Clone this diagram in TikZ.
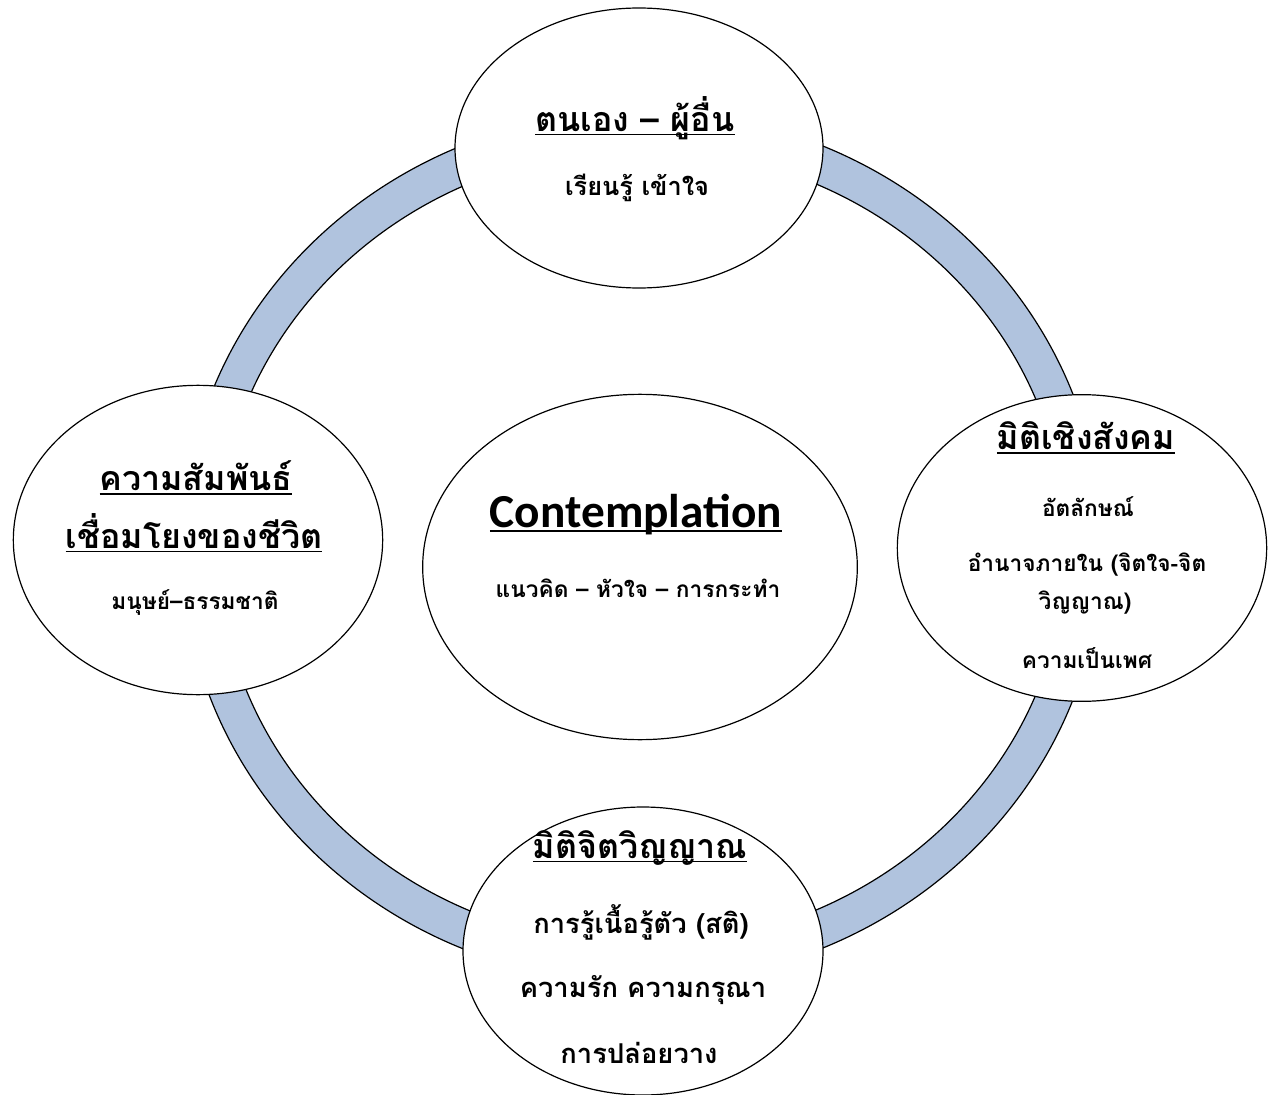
\documentclass[tikz,border=0pt]{standalone}
\usepackage{fontspec}
\setmainfont{Carlito}
\newfontfamily\thaifont[Script=Thai]{Loma}
\usetikzlibrary{shapes.geometric}
\definecolor{ringblue}{RGB}{176,195,222}
\newsavebox\ulbox
\newcommand{\ulin}[1]{\sbox\ulbox{#1}\rlap{\usebox\ulbox}\rule[-3pt]{\wd\ulbox}{1.2pt}}

\tikzset{
  blob/.style={draw, fill=white, ellipse, line width=0.9pt, inner sep=0pt},
  head/.style={font=\thaifont\bfseries\fontsize{25.5}{30}\selectfont},
  body/.style={font=\thaifont\bfseries\fontsize{20.5}{24}\selectfont},
  note/.style={font=\thaifont\bfseries\fontsize{19}{22}\selectfont},
  small/.style={font=\thaifont\bfseries\fontsize{17}{20}\selectfont}
}

\begin{document}
\begin{tikzpicture}[x=0.75pt,y=-0.75pt]
  \useasboundingbox (0,0) rectangle (1268,1095);
  % ring behind the circles
  \filldraw[ringblue, draw=black, line width=0.9pt, even odd rule]
    (642,547) circle [x radius=460, y radius=436]
    (642,547) circle [x radius=424, y radius=398];
  % the five circles
  \node[blob, minimum width=276pt, minimum height=210pt] (self) at (639,148) {};
  \node[blob, minimum width=277pt, minimum height=232pt] (life) at (198,540) {};
  \node[blob, minimum width=326pt, minimum height=259pt] (core) at (640,567) {};
  \node[blob, minimum width=277pt, minimum height=230pt] (social) at (1082,548) {};
  \node[blob, minimum width=270pt, minimum height=216pt] (spirit) at (643,951) {};
  % top
  \path (635,118) node[head] (selfhead) {\ulin{ตนเอง – ผู้อื่น}};
  \path (637,188) node[note] (selfa) {เรียนรู้ เข้าใจ};
  % left
  \path (196,478) node[head] (lifehead) {\ulin{ความสัมพันธ์}};
  \path (194,533) node[head] (lifehead2) {\ulin{เชื่อมโยงของชีวิต}};
  \path (195,603) node[small] (lifea) {มนุษย์–ธรรมชาติ};
  % centre
  \path (636,515) node[font=\bfseries\fontsize{35.5}{40}\selectfont] (corehead) {\ulin{Contemplation}};
  \path (638,588) node[small] (corea) {แนวคิด – หัวใจ – การกระทำ};
  % right
  \path (1086,438) node[head] (socialhead) {\ulin{มิติเชิงสังคม}};
  \path (1088,507) node[small] (sociala) {อัตลักษณ์};
  \path (1087,565) node[small] (socialb) {อำนาจภายใน (จิตใจ-จิต};
  \path (1085,603) node[small] (socialc) {วิญญาณ)};
  \path (1087,658) node[small] (sociald) {ความเป็นเพศ};
  % bottom
  \path (640,848) node[head] (spirithead) {\ulin{มิติจิตวิญญาณ}};
  \path (641,922) node[body] (spirita) {การรู้เนื้อรู้ตัว (สติ)};
  \path (643,990) node[body] (spiritb) {ความรัก ความกรุณา};
  \path (639,1053) node[body] (spiritc) {การปล่อยวาง};
\end{tikzpicture}
\end{document}
